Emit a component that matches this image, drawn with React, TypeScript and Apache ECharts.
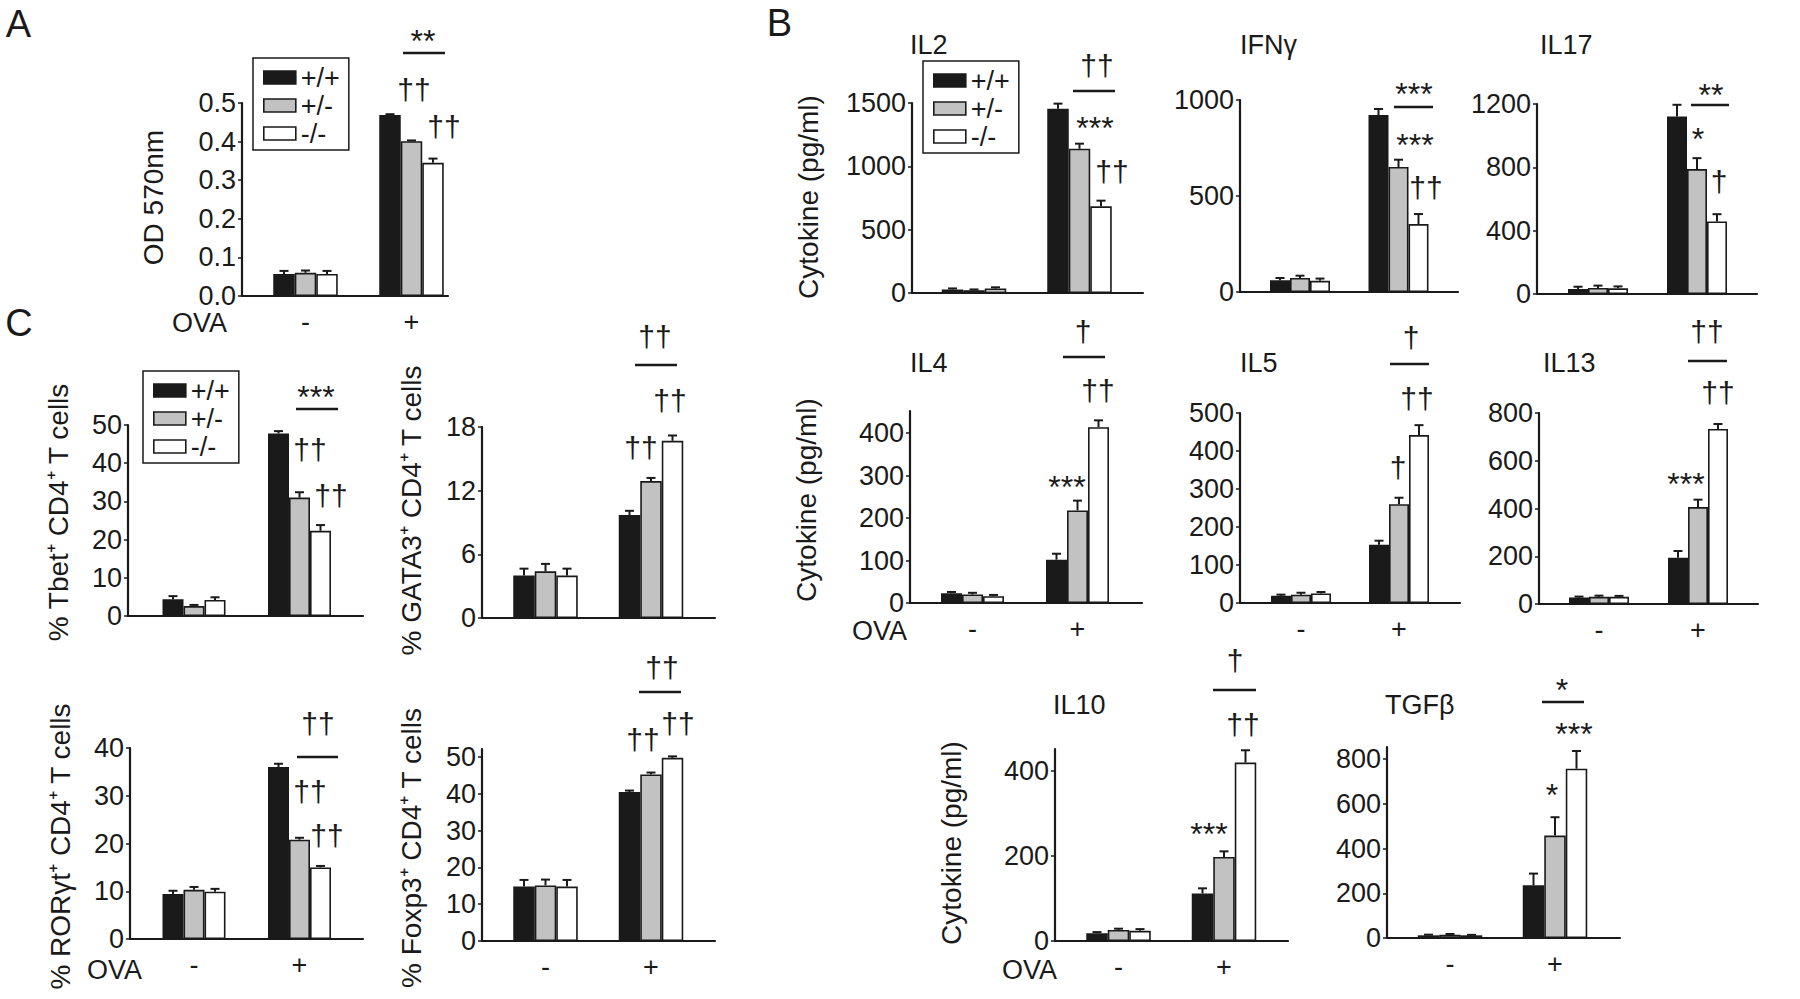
import React, { useEffect, useRef } from 'react';
import * as echarts from 'echarts';

const FONT = '"Liberation Sans", Arial, Helvetica, sans-serif';
const INK = '#1a1a1a';
const FILLS = ['#1a1a1a', '#c2c2c2', '#ffffff'];

const GENOTYPES = ['+/+', '+/-', '-/-'];
const OVA = ['-', '+'];

// [genotype][OVA -, OVA +]
const OD_MEAN = [[0.057, 0.469], [0.06, 0.401], [0.057, 0.345]];
const OD_SEM = [[0.008, 0.002], [0.006, 0.002], [0.008, 0.011]];
const OD_TICKS = [0, 0.1, 0.2, 0.3, 0.4, 0.5];

const TBET_MEAN = [[4.4, 47.8], [2.6, 31.0], [4.2, 22.3]];
const TBET_SEM = [[0.8, 0.6], [0.3, 1.4], [0.7, 1.5]];
const TBET_TICKS = [0, 10, 20, 30, 40, 50];

const GATA3_MEAN = [[4.0, 9.7], [4.4, 12.9], [4.0, 16.7]];
const GATA3_SEM = [[0.65, 0.4], [0.7, 0.3], [0.65, 0.5]];
const GATA3_TICKS = [0, 6, 12, 18];

const RORGT_MEAN = [[9.4, 36.0], [10.3, 20.8], [9.9, 15.0]];
const RORGT_SEM = [[0.7, 0.7], [0.6, 0.4], [0.6, 0.3]];
const RORGT_TICKS = [0, 10, 20, 30, 40];

const FOXP3_MEAN = [[14.8, 40.5], [15.1, 45.3], [14.8, 49.8]];
const FOXP3_SEM = [[1.8, 0.4], [1.6, 0.5], [1.8, 0.4]];
const FOXP3_TICKS = [0, 10, 20, 30, 40, 50];

const IL2_MEAN = [[28, 1455], [22, 1139], [35, 684]];
const IL2_SEM = [[8, 40], [6, 40], [10, 45]];
const IL2_TICKS = [0, 500, 1000, 1500];

const IFNG_MEAN = [[61, 922], [73, 651], [58, 354]];
const IFNG_SEM = [[12, 31], [12, 38], [12, 52]];
const IFNG_TICKS = [0, 500, 1000];

const IL17_MEAN = [[31, 1121], [38, 789], [36, 458]];
const IL17_SEM = [[15, 74], [15, 69], [12, 46]];
const IL17_TICKS = [0, 400, 800, 1200];

const IL4_MEAN = [[23, 102], [20, 218], [16, 414]];
const IL4_SEM = [[3, 14], [4, 23], [3, 16]];
const IL4_TICKS = [0, 100, 200, 300, 400];

const IL5_MEAN = [[19, 153], [22, 260], [25, 442]];
const IL5_SEM = [[3, 11], [5, 17], [4, 26]];
const IL5_TICKS = [0, 100, 200, 300, 400, 500];

const IL13_MEAN = [[27, 194], [30, 406], [30, 733]];
const IL13_SEM = [[4, 28], [5, 31], [4, 21]];
const IL13_TICKS = [0, 200, 400, 600, 800];

const IL10_MEAN = [[18, 112], [26, 198], [24, 420]];
const IL10_SEM = [[3, 12], [3, 13], [4, 29]];
const IL10_TICKS = [0, 200, 400];

const TGFB_MEAN = [[12, 236], [15, 458], [12, 757]];
const TGFB_SEM = [[3, 52], [3, 82], [2, 79]];
const TGFB_TICKS = [0, 200, 400, 600, 800];

const CYTO = 'Cytokine (pg/ml)';

// layout of each small chart (pixels); shift moves the axis name up along the axis
const PANELS = [
  { mean: OD_MEAN, sem: OD_SEM, ticks: OD_TICKS, max: 0.5, dec: 1, left: 242, top: 103, right: 448, zero: 296, c: [305.5, 411.5], barW: 21.5, name: 'OD 570nm', gap: 75, shift: 2, showX: true },
  { mean: TBET_MEAN, sem: TBET_SEM, ticks: TBET_TICKS, max: 50, dec: 0, left: 128, top: 425, right: 363, zero: 616, c: [194, 299.5], barW: 21, name: '% Tbet\u207A CD4\u207A T cells', gap: 56, shift: 8, showX: false },
  { mean: GATA3_MEAN, sem: GATA3_SEM, ticks: GATA3_TICKS, max: 18, dec: 0, left: 482, top: 427, right: 715, zero: 618, c: [545.5, 651], barW: 21.5, name: '% GATA3\u207A CD4\u207A T cells', gap: 57, shift: 12, showX: false },
  { mean: RORGT_MEAN, sem: RORGT_SEM, ticks: RORGT_TICKS, max: 40, dec: 0, left: 130, top: 748, right: 363, zero: 939, c: [194, 299.5], barW: 21, name: '% ROR\u03B3t\u207A CD4\u207A T cells', gap: 56, shift: -3, showX: true },
  { mean: FOXP3_MEAN, sem: FOXP3_SEM, ticks: FOXP3_TICKS, max: 52.2, dec: 0, left: 482, top: 749, right: 715, zero: 941, c: [545.5, 651], barW: 21.5, name: '% Foxp3\u207A CD4\u207A T cells', gap: 57, shift: -3, showX: true },
  { mean: IL2_MEAN, sem: IL2_SEM, ticks: IL2_TICKS, max: 1500, dec: 0, left: 912, top: 103, right: 1143, zero: 293, c: [974, 1079.5], barW: 21.5, name: CYTO, gap: 90, shift: 1, showX: false },
  { mean: IFNG_MEAN, sem: IFNG_SEM, ticks: IFNG_TICKS, max: 1000, dec: 0, left: 1240, top: 100, right: 1458, zero: 292, c: [1300, 1398.5], barW: 20, name: '', gap: 80, shift: 0, showX: false },
  { mean: IL17_MEAN, sem: IL17_SEM, ticks: IL17_TICKS, max: 1200, dec: 0, left: 1537, top: 104, right: 1757, zero: 294, c: [1598, 1697], barW: 20, name: '', gap: 80, shift: 0, showX: false },
  { mean: IL4_MEAN, sem: IL4_SEM, ticks: IL4_TICKS, max: 452, dec: 0, left: 910, top: 411, right: 1142, zero: 603, c: [972.5, 1077.5], barW: 21, name: CYTO, gap: 90, shift: 7, showX: true },
  { mean: IL5_MEAN, sem: IL5_SEM, ticks: IL5_TICKS, max: 500, dec: 0, left: 1240, top: 413, right: 1460, zero: 603, c: [1301, 1399], barW: 20, name: '', gap: 80, shift: 0, showX: true },
  { mean: IL13_MEAN, sem: IL13_SEM, ticks: IL13_TICKS, max: 800, dec: 0, left: 1539, top: 413, right: 1758, zero: 604, c: [1599, 1698], barW: 20, name: '', gap: 80, shift: 0, showX: true },
  { mean: IL10_MEAN, sem: IL10_SEM, ticks: IL10_TICKS, max: 452, dec: 0, left: 1055, top: 749, right: 1288, zero: 941, c: [1118.5, 1224], barW: 21.5, name: CYTO, gap: 90, shift: 2, showX: true },
  { mean: TGFB_MEAN, sem: TGFB_SEM, ticks: TGFB_TICKS, max: 854, dec: 0, left: 1387, top: 747, right: 1620, zero: 938, c: [1450, 1555], barW: 21.5, name: '', gap: 80, shift: 0, showX: true },
];

const TITLES = [
  { text: 'IL2', x: 910, y: 45 },
  { text: 'IFN\u03B3', x: 1240, y: 45 },
  { text: 'IL17', x: 1540, y: 45 },
  { text: 'IL4', x: 910, y: 363 },
  { text: 'IL5', x: 1240, y: 363 },
  { text: 'IL13', x: 1543, y: 363 },
  { text: 'IL10', x: 1053, y: 705 },
  { text: 'TGF\u03B2', x: 1385, y: 705 },
];

const LETTERS = [
  { text: 'A', x: 18.5, y: 23.5 },
  { text: 'B', x: 779.5, y: 22.5 },
  { text: 'C', x: 19, y: 322.5 },
];

const OVA_LABELS = [
  { x: 172, y: 323 },
  { x: 852, y: 631 },
  { x: 87, y: 970 },
  { x: 1002, y: 970 },
];

const LEGENDS = [
  { left: 253, top: 58 },
  { left: 143, top: 371 },
  { left: 923, top: 61 },
];

// significance marks: text, visual centre x, y
const SIG_TEXT: [string, number, number][] = [
  ['**', 423, 34], ['\u2020\u2020', 414, 91], ['\u2020\u2020', 444, 128],
  ['***', 316, 390], ['\u2020\u2020', 310, 451], ['\u2020\u2020', 331, 497],
  ['\u2020\u2020', 655, 338], ['\u2020\u2020', 670, 402], ['\u2020\u2020', 641, 449],
  ['\u2020\u2020', 318, 725], ['\u2020\u2020', 310, 793], ['\u2020\u2020', 327, 837],
  ['\u2020\u2020', 662, 669], ['\u2020\u2020', 643, 741], ['\u2020\u2020', 678, 725],
  ['\u2020\u2020', 1097, 67], ['***', 1095, 120.5], ['\u2020\u2020', 1112, 173],
  ['***', 1414, 87], ['***', 1415, 138], ['\u2020\u2020', 1426, 189],
  ['**', 1711, 88], ['*', 1698, 132], ['\u2020', 1719, 183],
  ['\u2020', 1083, 333], ['\u2020\u2020', 1098, 392], ['***', 1067, 480],
  ['\u2020', 1411, 339], ['\u2020\u2020', 1417, 400], ['\u2020', 1398, 469],
  ['\u2020\u2020', 1707, 333], ['\u2020\u2020', 1718, 394], ['***', 1686, 477],
  ['\u2020', 1235, 662], ['\u2020\u2020', 1243, 726], ['***', 1209, 827],
  ['*', 1562, 683], ['***', 1574, 727], ['*', 1552, 788],
];
// significance lines: x1, x2, y
const SIG_LINES: [number, number, number][] = [
  [403, 445, 53], [296, 338, 409], [635, 677, 365], [297, 338, 757], [639, 681, 692],
  [1073, 1115, 91], [1394, 1433, 107], [1691, 1729, 105],
  [1063, 1105, 357], [1390, 1429, 364], [1688, 1727, 361],
  [1213, 1256, 690], [1542, 1584, 702],
];

function buildOption() {
  const grid: any[] = [];
  const xAxis: any[] = [];
  const yAxis: any[] = [];
  const series: any[] = [];

  PANELS.forEach((p, i) => {
    grid.push({ left: p.left, top: p.top, width: p.right - p.left, height: p.zero - p.top, outerBoundsMode: 'none', containLabel: false });
    const span = p.c[1] - p.c[0];
    const xmin = -(p.c[0] - p.left) / span;
    const xmax = 1 + (p.right - p.c[1]) / span;
    xAxis.push({
      gridIndex: i, type: 'value', min: xmin, max: xmax,
      axisLine: { show: true, onZero: false, lineStyle: { color: INK, width: 2.2 } },
      axisTick: { show: false },
      splitLine: { show: false },
      axisLabel: {
        show: p.showX, customValues: [0, 1], margin: 12,
        formatter: (v: number) => (v === 0 || v === 1 ? OVA[v] : ''),
        fontSize: 27, color: INK, fontFamily: FONT,
      },
    });
    const step = p.ticks[1] - p.ticks[0];
    const sh = p.shift * 2;
    yAxis.push({
      gridIndex: i, type: 'value', min: 0, max: p.max, interval: step,
      axisLine: { show: true, onZero: false, lineStyle: { color: INK, width: 2.2 } },
      axisTick: { show: true, length: 4, customValues: p.ticks, lineStyle: { color: INK, width: 1.5 } },
      splitLine: { show: false },
      axisLabel: {
        customValues: p.ticks, margin: 6, lineHeight: 22,
        formatter: (v: number) => (Math.abs(v / step - Math.round(v / step)) < 1e-6 ? v.toFixed(p.dec) : ''),
        fontSize: 27, color: INK, fontFamily: FONT,
      },
      name: p.name, nameLocation: 'middle', nameRotate: 90, nameGap: p.gap,
      nameMoveOverlap: false,
      nameTextStyle: {
        fontSize: 28, color: INK, fontFamily: FONT,
        padding: sh >= 0 ? [0, 0, 0, sh] : [0, -sh, 0, 0],
      },
    });
    GENOTYPES.forEach((g, k) => {
      series.push({
        type: 'bar', name: g, xAxisIndex: i, yAxisIndex: i,
        barWidth: p.barW, barGap: '0%', silent: true,
        data: OVA.map((_, j) => [j, p.mean[k][j]]),
        itemStyle: { color: FILLS[k], borderColor: INK, borderWidth: 1.6 },
      });
    });
    const errData: number[][] = [];
    GENOTYPES.forEach((_, k) => OVA.forEach((__, j) => errData.push([j, p.mean[k][j], p.sem[k][j], k])));
    const bw = p.barW;
    series.push({
      type: 'custom', name: 'sem', xAxisIndex: i, yAxisIndex: i, silent: true, z: 3,
      data: errData,
      renderItem: (params: any, api: any) => {
        const x = api.value(0), y = api.value(1), e = api.value(2), k = api.value(3);
        const base = api.coord([x, y]);
        const top = api.coord([x, y + e]);
        const cx = base[0] + (k - 1) * bw;
        return {
          type: 'group',
          children: [
            { type: 'line', shape: { x1: cx, y1: base[1], x2: cx, y2: top[1] }, style: { stroke: INK, lineWidth: 2 } },
            { type: 'line', shape: { x1: cx - 4.5, y1: top[1], x2: cx + 4.5, y2: top[1] }, style: { stroke: INK, lineWidth: 2 } },
          ],
        };
      },
    });
  });

  const legend = LEGENDS.map((l) => ({
    left: l.left, top: l.top, orient: 'vertical', selectedMode: false,
    padding: [6, 9, 3, 10], itemGap: 1, itemWidth: 32, itemHeight: 13,
    borderColor: INK, borderWidth: 1.5, backgroundColor: '#fff',
    textStyle: { fontSize: 27, color: INK, fontFamily: FONT },
    data: GENOTYPES.map((g, k) => ({ name: g, icon: 'rect', itemStyle: { color: FILLS[k], borderColor: INK, borderWidth: 1.6 } })),
  }));

  const title = TITLES.map((t) => ({
    text: t.text, left: t.x, top: t.y - 13.5, padding: 0,
    textStyle: { fontSize: 27, fontWeight: 'normal', color: INK, fontFamily: FONT },
  }));

  const graphic: any[] = [];
  LETTERS.forEach((l) => graphic.push({ type: 'text', x: l.x, y: l.y, silent: true, style: { text: l.text, fontSize: 38, fontFamily: FONT, fill: INK, align: 'center', verticalAlign: 'middle' } }));
  OVA_LABELS.forEach((o) => graphic.push({ type: 'text', x: o.x, y: o.y, silent: true, style: { text: 'OVA', fontSize: 27, lineHeight: 21, fontFamily: FONT, fill: INK, align: 'left', verticalAlign: 'middle' } }));
  SIG_TEXT.forEach(([t, x, y]) => {
    const star = t.indexOf('*') >= 0;
    graphic.push({ type: 'text', x, y: y + (star ? 7 : -2), silent: true, style: { text: t, fontSize: star ? 32 : 30, fontFamily: FONT, fill: INK, align: 'center', verticalAlign: 'middle' } });
  });
  SIG_LINES.forEach(([x1, x2, y]) => graphic.push({ type: 'line', silent: true, shape: { x1, y1: y, x2, y2: y }, style: { stroke: INK, lineWidth: 2.5 } }));

  return {
    animation: false,
    backgroundColor: '#ffffff',
    textStyle: { fontFamily: FONT },
    grid, xAxis, yAxis, series, legend, title, graphic,
  };
}

export default function App() {
  const ref = useRef<HTMLDivElement>(null);
  useEffect(() => {
    if (!ref.current) return;
    const chart = echarts.init(ref.current, null, { renderer: 'svg' });
    chart.setOption(buildOption() as any);
    return () => chart.dispose();
  }, []);
  return <div ref={ref} style={{ position: 'fixed', left: 0, top: 0, width: 1800, height: 999, background: '#fff' }} />;
}
